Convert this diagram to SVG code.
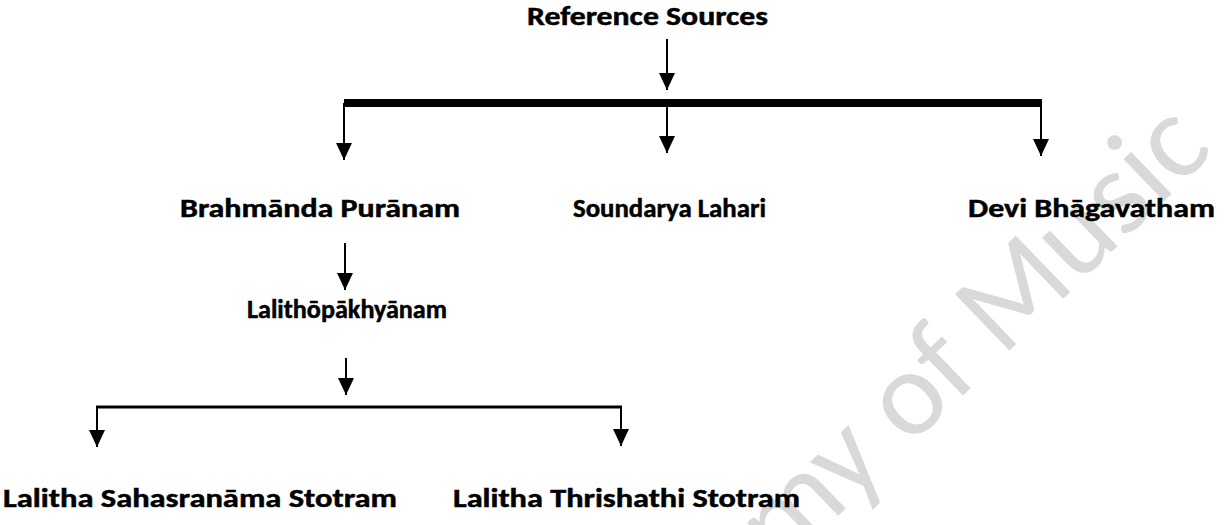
<svg xmlns="http://www.w3.org/2000/svg" width="1231" height="525" viewBox="0 0 1231 525">
  <style>
    .lbl { font-family: Carlito, "Open Sans", Lato, "Liberation Sans", sans-serif; font-weight: 700; font-size: 26.67px; fill: #000; stroke: #000; stroke-width: 0.5px; }
    .wm { font-family: Carlito, Lato, "Liberation Sans", sans-serif; font-weight: 400; font-size: 122px; fill: #d9d9d9; }
    .ln { stroke: #000; stroke-width: 2; fill: none; }
  </style>
  <defs>
    <marker id="ah" markerUnits="userSpaceOnUse" markerWidth="17" markerHeight="16" refX="17" refY="8" orient="auto" viewBox="0 0 17 16">
      <path d="M0,0 L17,8 L0,16 Z" fill="#000"/>
    </marker>
  </defs>
  <rect width="1231" height="525" fill="#fff"/>

  <g id="watermark">
    <text class="wm" x="1215" y="152" text-anchor="end" transform="rotate(-44 1215 152)">Academy of Music</text>
  </g>

  <g id="connectors">
    <line class="ln" x1="667" y1="39" x2="667" y2="90" marker-end="url(#ah)"/>
    <rect x="344" y="99" width="698" height="8" fill="#000"/>
    <line class="ln" x1="344" y1="103" x2="344" y2="160" marker-end="url(#ah)"/>
    <line class="ln" x1="667" y1="107" x2="667" y2="153" marker-end="url(#ah)"/>
    <line class="ln" x1="1041" y1="107" x2="1041" y2="156" marker-end="url(#ah)"/>
    <line class="ln" x1="345" y1="243" x2="345" y2="290" marker-end="url(#ah)"/>
    <line class="ln" x1="346" y1="358" x2="346" y2="395" marker-end="url(#ah)"/>
    <line x1="96" y1="407" x2="622" y2="407" stroke="#000" stroke-width="3"/>
    <line class="ln" x1="97" y1="407" x2="97" y2="447" marker-end="url(#ah)"/>
    <line class="ln" x1="621" y1="407" x2="621" y2="446" marker-end="url(#ah)"/>
  </g>

  <g id="node-reference-sources">
    <text class="lbl" x="527" y="25" textLength="241" lengthAdjust="spacingAndGlyphs">Reference Sources</text>
  </g>
  <g id="node-brahmanda">
    <text class="lbl" x="180" y="217" textLength="280" lengthAdjust="spacingAndGlyphs">Brahmānda Purānam</text>
  </g>
  <g id="node-soundarya">
    <text class="lbl" x="573" y="217" textLength="193" lengthAdjust="spacingAndGlyphs">Soundarya Lahari</text>
  </g>
  <g id="node-devi">
    <text class="lbl" x="968" y="217" textLength="247" lengthAdjust="spacingAndGlyphs">Devi Bhāgavatham</text>
  </g>
  <g id="node-lalithopakhyanam">
    <text class="lbl" x="247" y="318" textLength="200" lengthAdjust="spacingAndGlyphs">Lalithōpākhyānam</text>
  </g>
  <g id="node-sahasranama">
    <text class="lbl" x="3" y="507" textLength="394" lengthAdjust="spacingAndGlyphs">Lalitha Sahasranāma Stotram</text>
  </g>
  <g id="node-thrishathi">
    <text class="lbl" x="453" y="507" textLength="347" lengthAdjust="spacingAndGlyphs">Lalitha Thrishathi Stotram</text>
  </g>
</svg>
